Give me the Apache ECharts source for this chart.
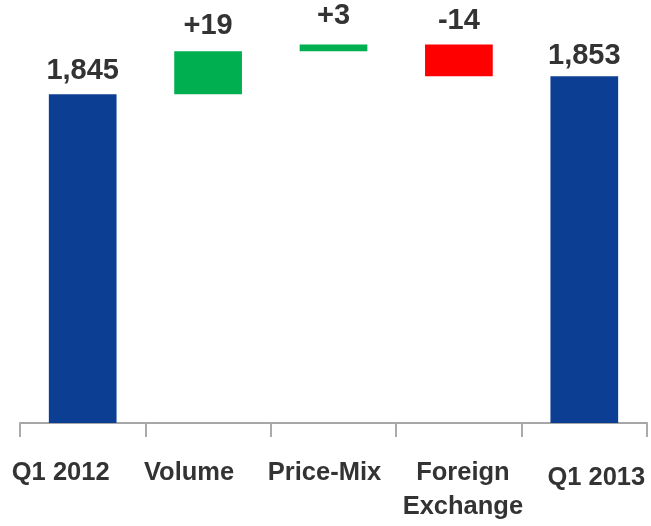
<!DOCTYPE html>
<html>
<head>
<meta charset="utf-8">
<script src="https://cdn.jsdelivr.net/npm/echarts@6/dist/echarts.min.js"></script>
<style>
  html, body { margin: 0; padding: 0; background: #ffffff; }
  #chart { width: 651px; height: 526px; }
</style>
</head>
<body>
<div id="chart"></div>
<script>
// Sales bridge: Q1 2012 -> Q1 2013
const categories = ['Q1 2012', 'Volume', 'Price-Mix', 'Foreign\nExchange', 'Q1 2013'];
const startTotal = 1845;
const changes = [19, 3, -14];
const endTotal = 1853;
const valueLabels = ['1,845', '+19', '+3', '-14', '1,853'];

// horizontal nudges (px) and extra top space for the category captions
const captionShift = [-22, -19, -9, 4, 12];
const captionTop = [0, 0, 0, 0, 9];
// gap between each bar and its value label
const labelGap = [9, 11, 14, 9, 6];

const BLUE = '#0c3f93';
const GREEN = '#00b050';
const RED = '#ff0000';

// invisible base + visible step for each column
const base = ['-'];
const step = [{ value: startTotal, itemStyle: { color: BLUE } }];
let running = startTotal;
changes.forEach(function (d) {
  if (d >= 0) {
    base.push(running);
    step.push({ value: d, itemStyle: { color: GREEN } });
  } else {
    base.push(running + d);
    step.push({ value: -d, itemStyle: { color: RED } });
  }
  running += d;
});
base.push('-');
step.push({ value: endTotal, itemStyle: { color: BLUE } });
step.forEach(function (item, i) { item.label = { distance: labelGap[i] }; });

const rich = {};
captionShift.forEach(function (s, i) {
  rich['c' + i] = {
    fontFamily: 'Liberation Sans',
    fontWeight: 'bold',
    fontSize: 25.5,
    lineHeight: 34,
    color: '#333333',
    padding: [captionTop[i], s < 0 ? -2 * s : 0, 0, s > 0 ? 2 * s : 0]
  };
});

const chart = echarts.init(document.getElementById('chart'), null, { renderer: 'canvas' });
chart.setOption({
  animation: false,
  backgroundColor: '#ffffff',
  textStyle: { fontFamily: 'Liberation Sans' },
  grid: { left: 20, right: 4, top: 15, bottom: 103, containLabel: false, outerBoundsMode: 'none' },
  xAxis: {
    type: 'category',
    data: categories,
    boundaryGap: true,
    axisLine: { show: true, lineStyle: { color: '#a6a6a6', width: 2 } },
    axisTick: { show: true, alignWithLabel: false, interval: 0, length: 14, lineStyle: { color: '#ababab', width: 2 } },
    axisLabel: {
      interval: 0,
      margin: 33,
      formatter: function (v, i) { return '{c' + i + '|' + v + '}'; },
      rich: rich
    }
  },
  yAxis: {
    type: 'value',
    min: 1700,
    max: 1880,
    show: false,
    splitLine: { show: false }
  },
  series: [
    {
      type: 'bar',
      stack: 'bridge',
      data: base,
      barWidth: '54%',
      itemStyle: { color: 'transparent' },
      emphasis: { disabled: true },
      silent: true
    },
    {
      type: 'bar',
      stack: 'bridge',
      data: step,
      barWidth: '54%',
      clip: true,
      label: {
        show: true,
        position: 'top',
        distance: 12,
        fontFamily: 'Liberation Sans',
        fontWeight: 'bold',
        fontSize: 29,
        color: '#333333',
        formatter: function (p) { return valueLabels[p.dataIndex]; }
      }
    }
  ]
});
</script>
</body>
</html>
